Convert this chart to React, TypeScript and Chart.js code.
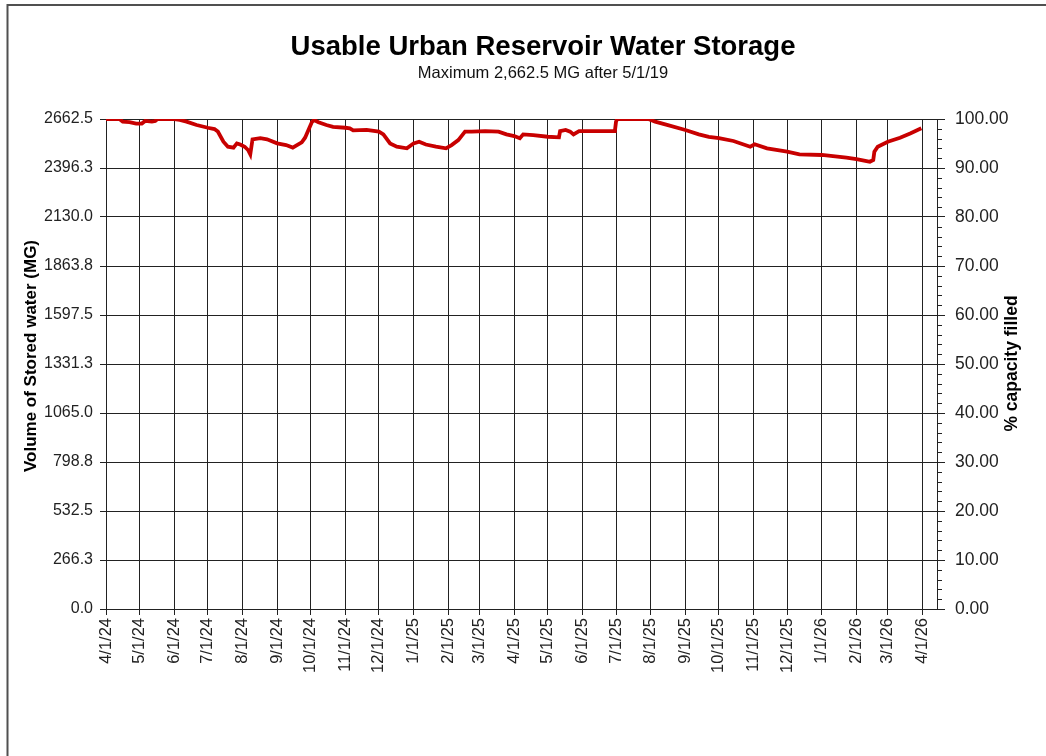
import React, { useEffect, useRef } from 'react';
import { Chart, registerables } from 'chart.js';

Chart.register(...registerables);

const chartTitle = 'Usable Urban Reservoir Water Storage';
const chartSubtitle = 'Maximum 2,662.5 MG after 5/1/19';
const leftAxisTitle = 'Volume of Stored water (MG)';
const rightAxisTitle = '% capacity filled';

const monthLabels = [
  '4/1/24', '5/1/24', '6/1/24', '7/1/24', '8/1/24', '9/1/24', '10/1/24', '11/1/24', '12/1/24',
  '1/1/25', '2/1/25', '3/1/25', '4/1/25', '5/1/25', '6/1/25', '7/1/25', '8/1/25', '9/1/25',
  '10/1/25', '11/1/25', '12/1/25', '1/1/26', '2/1/26', '3/1/26', '4/1/26',
];

const volumeTicks = [0, 266.25, 532.5, 798.75, 1065, 1331.25, 1597.5, 1863.75, 2130, 2396.25, 2662.5];
const percentTicks = [0, 10, 20, 30, 40, 50, 60, 70, 80, 90, 100];

const obsDates = [
  '4/1/24', '4/13/24', '4/16/24', '4/22/24', '4/28/24', '5/3/24', '5/6/24', '5/12/24', '5/15/24', '5/17/24',
  '6/1/24', '6/6/24', '6/12/24', '6/21/24', '7/1/24', '7/7/24', '7/10/24', '7/15/24', '7/19/24', '7/24/24',
  '7/27/24', '7/30/24', '8/3/24', '8/6/24', '8/8/24', '8/10/24', '8/17/24', '8/23/24', '9/1/24', '9/9/24',
  '9/15/24', '9/18/24', '9/23/24', '9/26/24', '9/29/24', '10/2/24', '10/4/24', '10/8/24', '10/15/24', '10/21/24',
  '11/1/24', '11/5/24', '11/8/24', '11/20/24', '12/1/24', '12/5/24', '12/11/24', '12/17/24', '12/26/24', '1/1/25',
  '1/6/25', '1/12/25', '1/21/25', '1/30/25', '2/4/25', '2/10/25', '2/16/25', '2/22/25', '3/6/25', '3/18/25',
  '3/25/25', '4/1/25', '4/6/25', '4/9/25', '4/18/25', '5/1/25', '5/11/25', '5/12/25', '5/17/25', '5/21/25',
  '5/24/25', '5/29/25', '6/16/25', '6/30/25', '7/1/25', '7/2/25', '7/30/25', '8/5/25', '8/14/25', '9/1/25',
  '9/13/25', '9/22/25', '10/1/25', '10/14/25', '10/29/25', '11/2/25', '11/13/25', '12/1/25', '12/12/25', '1/1/26',
  '1/11/26', '1/23/26', '2/1/26', '2/10/26', '2/13/26', '2/16/26', '2/17/26', '2/20/26', '3/1/26', '3/12/26',
  '3/21/26', '3/31/26',
];

const storageMG = [
  2662.5, 2662.5, 2648, 2645, 2637, 2638, 2652, 2648, 2652, 2662.5,
  2662.5, 2658, 2648, 2630, 2615, 2608, 2594, 2539, 2512, 2507,
  2530, 2524, 2512, 2494, 2470, 2552, 2558, 2552, 2530, 2521,
  2507, 2518, 2536, 2561, 2603, 2645, 2657, 2645, 2630, 2620,
  2615, 2612, 2601, 2603, 2594, 2579, 2530, 2512, 2503, 2530,
  2539, 2524, 2512, 2503, 2521, 2548, 2594, 2594, 2597, 2594,
  2579, 2570, 2558, 2579, 2575, 2566, 2563, 2597, 2603, 2594,
  2579, 2597, 2597, 2597, 2648, 2662.5, 2662.5, 2648, 2633, 2603,
  2579, 2566, 2558, 2543, 2512, 2525, 2503, 2485, 2470, 2467,
  2461, 2453, 2445, 2434, 2430, 2440, 2485, 2512, 2539, 2561,
  2584, 2612,
];

const xStartDate = '4/1/24';
const xEndDate = '4/14/26';

function dayIndex(s: string): number {
  const [m, d, y] = s.split('/').map(Number);
  const [m0, d0, y0] = xStartDate.split('/').map(Number);
  return (Date.UTC(2000 + y, m - 1, d) - Date.UTC(2000 + y0, m0 - 1, d0)) / 86400000;
}

const FONT = '"Liberation Sans", Arial, Helvetica, sans-serif';
const GRID = '#222222';
const TEXT = '#222222';

const decorPlugin = {
  id: 'decor',
  afterDraw(chart: any) {
    const ctx = chart.ctx as CanvasRenderingContext2D;
    const y1 = chart.scales.y1;
    const area = chart.chartArea;
    ctx.save();
    // minor ticks on the right axis
    ctx.strokeStyle = GRID;
    ctx.lineWidth = 1;
    for (let p = 0; p <= 100; p += 2) {
      if (p % 10 === 0) continue;
      const py = Math.round(y1.getPixelForValue(p)) + 0.5;
      ctx.beginPath();
      ctx.moveTo(area.right, py);
      ctx.lineTo(area.right + 5, py);
      ctx.stroke();
    }
    // title + subtitle
    ctx.fillStyle = '#000';
    ctx.textAlign = 'center';
    ctx.textBaseline = 'alphabetic';
    ctx.font = `bold 27.5px ${FONT}`;
    ctx.fillText(chartTitle, 543, 55);
    ctx.font = `16.5px ${FONT}`;
    ctx.fillStyle = '#111';
    ctx.fillText(chartSubtitle, 543, 78);
    // axis titles
    ctx.fillStyle = '#000';
    ctx.font = `bold 17px ${FONT}`;
    ctx.textBaseline = 'middle';
    ctx.save();
    ctx.translate(31, 356);
    ctx.rotate(-Math.PI / 2);
    ctx.fillText(leftAxisTitle, 0, 0);
    ctx.restore();
    ctx.save();
    ctx.font = `bold 17.5px ${FONT}`;
    ctx.translate(1012.5, 363.5);
    ctx.rotate(-Math.PI / 2);
    ctx.fillText(rightAxisTitle, 0, 0);
    ctx.restore();
    // frame
    ctx.strokeStyle = '#505050';
    ctx.lineWidth = 2;
    ctx.beginPath();
    ctx.moveTo(7.5, 760);
    ctx.lineTo(7.5, 5);
    ctx.lineTo(1050, 5);
    ctx.stroke();
    ctx.restore();
  },
};

export default function App() {
  const canvasRef = useRef<HTMLCanvasElement | null>(null);

  useEffect(() => {
    if (!canvasRef.current) return;
    const points = obsDates.map((d, i) => ({ x: dayIndex(d), y: storageMG[i] }));
    const chart = new Chart(canvasRef.current, {
      type: 'line',
      data: {
        datasets: [
          {
            data: points,
            borderColor: '#c80000',
            borderWidth: 3.8,
            pointRadius: 0,
            fill: false,
            tension: 0,
            yAxisID: 'y',
            xAxisID: 'x',
          },
        ],
      },
      options: {
        animation: false,
        responsive: false,
        devicePixelRatio: 1,
        layout: { padding: { top: 119, left: 0, right: 0, bottom: 0 } },
        plugins: {
          legend: { display: false },
          tooltip: { enabled: false },
          title: { display: false },
        },
        scales: {
          x: {
            type: 'linear',
            position: 'bottom',
            min: 0,
            max: dayIndex(xEndDate),
            afterBuildTicks: (s: any) => {
              s.ticks = monthLabels.map((l) => ({ value: dayIndex(l) }));
            },
            afterFit: (s: any) => {
              s.height = 756 - 609;
            },
            ticks: {
              autoSkip: false,
              minRotation: 90,
              maxRotation: 90,
              padding: 3,
              color: TEXT,
              font: { family: FONT, size: 16.5 },
              callback: (_v: any, i: number) => monthLabels[i],
            },
            grid: { color: GRID, lineWidth: 1, tickLength: 6, drawTicks: true },
            border: { display: true, color: GRID, width: 1 },
          },
          y: {
            type: 'linear',
            position: 'left',
            min: 0,
            max: 2662.5,
            afterBuildTicks: (s: any) => {
              s.ticks = volumeTicks.map((v) => ({ value: v }));
            },
            afterFit: (s: any) => {
              s.width = 106;
            },
            ticks: {
              autoSkip: false,
              padding: 7,
              color: TEXT,
              font: { family: FONT, size: 16 },
              callback: (v: any) => Number(v).toFixed(1),
            },
            grid: { color: GRID, lineWidth: 1, tickLength: 6 },
            border: { display: true, color: GRID, width: 1 },
          },
          y1: {
            type: 'linear',
            position: 'right',
            min: 0,
            max: 100,
            afterBuildTicks: (s: any) => {
              s.ticks = percentTicks.map((v) => ({ value: v }));
            },
            afterFit: (s: any) => {
              s.width = 1046 - 937;
            },
            ticks: {
              autoSkip: false,
              padding: 10,
              color: TEXT,
              font: { family: FONT, size: 17.5 },
              callback: (v: any) => Number(v).toFixed(2),
            },
            grid: { drawOnChartArea: false, color: GRID, lineWidth: 1, tickLength: 8 },
            border: { display: true, color: GRID, width: 1 },
          },
        },
      },
      plugins: [decorPlugin],
    });
    return () => chart.destroy();
  }, []);

  return (
    <div style={{ position: 'fixed', left: 0, top: 0, width: 1046, height: 756, background: '#fff' }}>
      <canvas ref={canvasRef} width={1046} height={756} style={{ display: 'block', width: 1046, height: 756 }} />
    </div>
  );
}
